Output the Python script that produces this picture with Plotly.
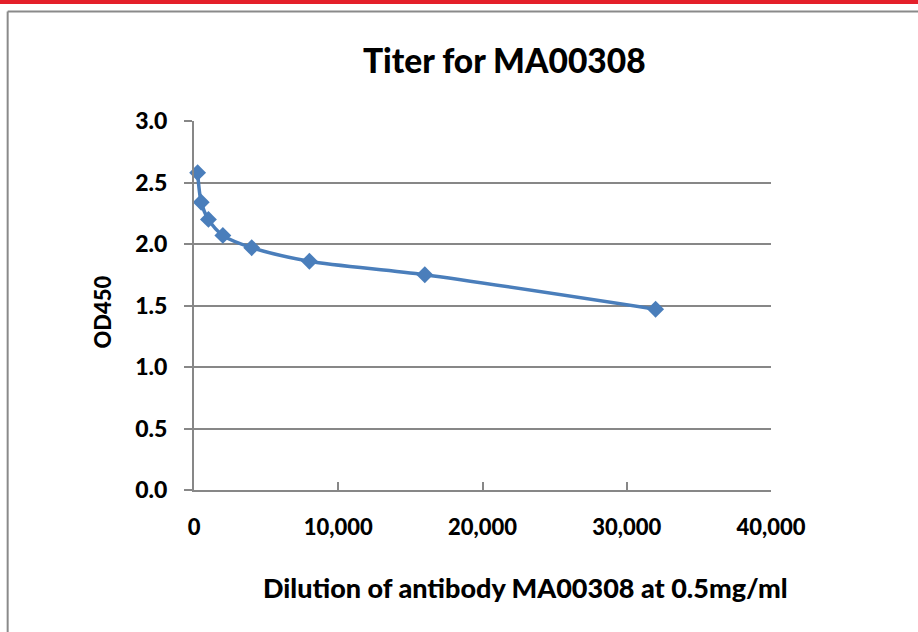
import plotly.graph_objects as go

dilution = [250, 500, 1000, 2000, 4000, 8000, 16000, 32000]
od450 = [2.58, 2.34, 2.20, 2.07, 1.97, 1.86, 1.75, 1.47]
x_ticks = [0, 10000, 20000, 30000, 40000]
x_tick_labels = ["0", "10,000", "20,000", "30,000", "40,000"]
y_ticks = [0.0, 0.5, 1.0, 1.5, 2.0, 2.5, 3.0]
y_tick_labels = ["0.0", "0.5", "1.0", "1.5", "2.0", "2.5", "3.0"]

title_text = "Titer for MA00308"
x_title = "Dilution of antibody MA00308 at 0.5mg/ml"
y_title = "OD450"

FONT = "Lato, 'Open Sans', sans-serif"
GRID = "#878787"
BLUE = "#4a7ebb"

W, H = 918, 632
L, R, T, B = 193.5, 147, 121, 142
PW, PH = W - L - R, H - T - B


def px(xp):
    return (xp - L) / PW


def py(yp):
    return (H - B - yp) / PH


fig = go.Figure()
fig.add_trace(go.Scatter(
    x=dilution, y=od450, mode="lines+markers",
    line=dict(color=BLUE, width=3.5, shape="spline", smoothing=0.8),
    marker=dict(symbol="diamond", size=13, color=BLUE),
    showlegend=False, cliponaxis=False,
))

fig.update_layout(
    width=W, height=H,
    margin=dict(l=L, r=R, t=T, b=B, pad=0),
    paper_bgcolor="white", plot_bgcolor="white",
    font=dict(family=FONT, color="black"),
    xaxis=dict(
        range=[0, 40000], tickvals=x_ticks, ticktext=x_tick_labels,
        showgrid=False, zeroline=False, showline=True, linecolor=GRID, linewidth=2,
        ticks="inside", ticklen=8, tickwidth=2, tickcolor=GRID,
        tickfont=dict(family=FONT, size=22, color="black", weight=900),
        ticklabelstandoff=17, fixedrange=True,
    ),
    yaxis=dict(
        range=[0, 3.0], tickvals=y_ticks, ticktext=y_tick_labels,
        showgrid=True, gridcolor=GRID, gridwidth=1.5, zeroline=False,
        showline=True, linecolor=GRID, linewidth=2,
        ticks="outside", ticklen=8, tickwidth=1.5, tickcolor=GRID,
        tickfont=dict(family=FONT, size=23, color="black", weight=900),
        ticklabelstandoff=12, fixedrange=True,
    ),
    annotations=[
        dict(text=title_text, x=px(504), y=py(60), xref="paper", yref="paper",
             showarrow=False, xanchor="center", yanchor="middle",
             font=dict(family=FONT, size=33.5, color="black", weight=900)),
        dict(text=x_title, x=px(525), y=py(587), xref="paper", yref="paper",
             showarrow=False, xanchor="center", yanchor="middle",
             font=dict(family=FONT, size=27, color="black", weight=900)),
        dict(text=y_title, x=px(101), y=py(312), xref="paper", yref="paper",
             showarrow=False, xanchor="center", yanchor="middle", textangle=-90,
             font=dict(family=FONT, size=22, color="black", weight=900)),
    ],
    shapes=[
        dict(type="rect", xref="paper", yref="paper",
             x0=px(-5), x1=px(W + 5), y0=py(0), y1=py(4),
             fillcolor="#e41f2a", line=dict(width=0), layer="above"),
        dict(type="line", xref="paper", yref="paper",
             x0=px(7), x1=px(W + 5), y0=py(11.5), y1=py(11.5),
             line=dict(color="#8a8a8a", width=2)),
        dict(type="line", xref="paper", yref="paper",
             x0=px(7), x1=px(7), y0=py(11.5), y1=py(H + 5),
             line=dict(color="#8a8a8a", width=2)),
    ],
)

fig.write_html("out.html", config={"displayModeBar": False},
               post_script="document.body.style.margin='0';document.body.style.overflow='hidden';")
